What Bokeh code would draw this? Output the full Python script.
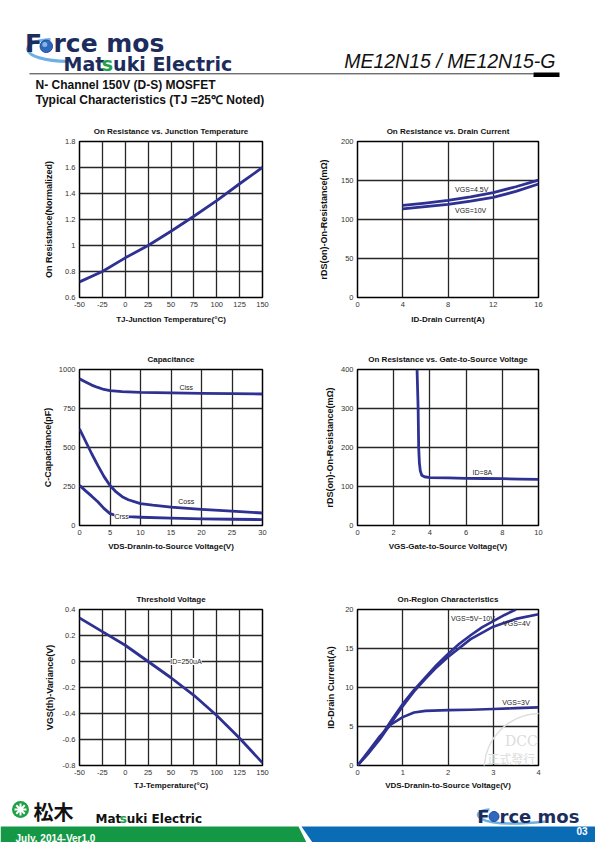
from bokeh.plotting import figure
from bokeh.models import Range1d, FixedTicker, Label, CustomJSTickFormatter
from bokeh.layouts import column, row
from bokeh.embed import file_html
from bokeh.resources import INLINE

# ---------------- data ----------------
tj_temp = [-50, -25, 0, 25, 50, 75, 100, 125, 150]
ron_norm = [0.72, 0.80, 0.905, 1.0, 1.11, 1.225, 1.345, 1.475, 1.60]

id_current = [4, 6, 8, 10, 12, 14, 16]
rds_vgs45 = [118, 121, 124.5, 129, 134.5, 142, 150.5]
rds_vgs10 = [113.5, 116.5, 119.5, 123.5, 128.5, 136, 145.5]

vds_ciss = [0, 1, 2, 3, 4, 5, 7, 10, 15, 20, 25, 30]
ciss = [940, 920, 900, 885, 872, 864, 858, 853, 850, 847, 845, 843]
vds_coss = [0, 1, 2, 3, 4, 5, 6, 7, 8, 10, 12, 15, 20, 25, 30]
coss = [620, 540, 460, 385, 315, 256, 215, 185, 165, 140, 130, 118, 103, 92, 80]
vds_crss = [0, 1, 2, 3, 4, 5, 6, 8, 10, 15, 20, 25, 30]
crss = [258, 222, 188, 152, 110, 76, 64, 57, 53, 47, 43, 40, 38]

vgs = [3.29, 3.35, 3.38, 3.42, 3.47, 3.55, 3.70, 4.0, 5, 6, 7, 8, 9, 10]
rds_vgs = [400, 300, 200, 160, 140, 129, 125, 123, 122, 121, 120.5, 120, 119, 118.5]

vth_temp = [-50, -25, 0, 25, 50, 75, 100, 125, 150]
vth_var = [0.335, 0.23, 0.125, 0.0, -0.125, -0.26, -0.415, -0.59, -0.78]

vds_5to10 = [0, 0.25, 0.5, 0.75, 1, 1.25, 1.5, 1.75, 2, 2.25, 2.5, 2.75, 3, 3.25, 3.5]
id_5to10 = [0, 1.7, 3.6, 5.8, 7.9, 9.7, 11.3, 12.9, 14.3, 15.6, 16.7, 17.7, 18.5, 19.3, 20.0]
vds_4v = [0, 0.25, 0.5, 0.75, 1, 1.25, 1.5, 1.75, 2, 2.5, 3, 3.5, 4]
id_4v = [0, 1.6, 3.4, 5.5, 7.6, 9.5, 11.1, 12.6, 13.9, 16.2, 17.8, 18.8, 19.4]
vds_3v = [0, 0.25, 0.5, 0.75, 1.0, 1.25, 1.5, 2, 2.5, 3, 3.5, 4]
id_3v = [0, 1.9, 3.8, 5.3, 6.2, 6.8, 7.0, 7.1, 7.15, 7.25, 7.35, 7.45]

ticks_temp = [-50, -25, 0, 25, 50, 75, 100, 125, 150]
ticks_ron = [0.6, 0.8, 1.0, 1.2, 1.4, 1.6, 1.8]
ticks_id = [0, 4, 8, 12, 16]
ticks_rds200 = [0, 50, 100, 150, 200]
ticks_vds30 = [0, 5, 10, 15, 20, 25, 30]
ticks_cap = [0, 250, 500, 750, 1000]
ticks_vgs = [0, 2, 4, 6, 8, 10]
ticks_rds400 = [0, 100, 200, 300, 400]
ticks_vth = [-0.8, -0.6, -0.4, -0.2, 0, 0.2, 0.4]
ticks_vds4 = [0, 1, 2, 3, 4]
ticks_id20 = [0, 5, 10, 15, 20]

# "DCC" stamp seen behind the last chart (centre / radius in that chart's units)
stamp_x, stamp_y, stamp_r = 4.04, -0.51, 1.24

FONT = "Liberation Sans"
CURVE = "#2e3192"
NAVY = "#1c2c5c"
LOGO_GREEN = "#22a04b"
BAND_GREEN = "#159846"
BAND_BLUE = "#0b6cb6"

fmt = CustomJSTickFormatter(code="return (Math.round(tick*10)/10).toString();")


def chart(title, xlabel, ylabel, xr, yr, xt, yt, width, height, bl, br, bt, bb,
          ylab_so, xlab_so):
    p = figure(width=width, height=height, x_range=Range1d(*xr), y_range=Range1d(*yr),
               output_backend="svg", toolbar_location=None, title=title,
               min_border_left=bl, min_border_right=br, min_border_top=bt,
               min_border_bottom=bb)
    p.title.align = "center"
    p.title.text_font = FONT
    p.title.text_font_size = "8px"
    p.title.text_font_style = "bold"
    p.title.text_color = "#111111"
    p.title.standoff = 12
    p.outline_line_color = "black"
    p.outline_line_width = 1.5
    p.background_fill_color = "white"
    p.border_fill_color = "white"
    for ax, ticks, lab, so, fs in ((p.xaxis[0], xt, xlabel, xlab_so, "8px"),
                                   (p.yaxis[0], yt, ylabel, ylab_so, "9px")):
        ax.ticker = FixedTicker(ticks=ticks)
        ax.formatter = fmt
        ax.axis_label = lab
        ax.axis_line_color = None
        ax.major_tick_line_color = None
        ax.minor_tick_line_color = None
        ax.major_tick_out = 0
        ax.major_tick_in = 0
        ax.major_label_standoff = 4
        ax.major_label_text_font = FONT
        ax.major_label_text_font_size = "7.5px"
        ax.major_label_text_color = "#333333"
        ax.axis_label_text_font = FONT
        ax.axis_label_text_font_size = fs
        ax.axis_label_text_font_style = "bold"
        ax.axis_label_text_color = "#111111"
        ax.axis_label_standoff = so
    p.xgrid.ticker = FixedTicker(ticks=xt)
    p.ygrid.ticker = FixedTicker(ticks=yt)
    p.grid.grid_line_color = "#262626"
    p.grid.grid_line_width = 1.3
    p.grid.grid_line_alpha = 1.0
    return p


def note(p, x, y, text, size="7px", bg=None, align="center", color="#222222", font=FONT):
    lab = Label(x=x, y=y, text=text, text_font=font, text_font_size=size,
                text_align=align, text_baseline="middle", text_color=color)
    if bg is not None:
        lab.background_fill_color = bg
    p.add_layout(lab)


LW, RW = 298, 297

# ---------- row 1 ----------
p1 = chart("On Resistance vs. Junction Temperature", "TJ-Junction Temperature(°C)",
           "On Resistance(Normalized)", (-50, 150), (0.6, 1.8), ticks_temp, ticks_ron,
           LW, 227, 79, 36, 23, 48, 8, 5)
p1.line(tj_temp, ron_norm, line_width=2.8, color=CURVE, line_join="round")

p2 = chart("On Resistance vs. Drain Current", "ID-Drain Current(A)",
           "rDS(on)-On-Resistance(mΩ)", (0, 16), (0, 200), ticks_id, ticks_rds200,
           RW, 227, 59, 57, 23, 48, 9, 5)
p2.line(id_current, rds_vgs45, line_width=2.8, color=CURVE, line_join="round")
p2.line(id_current, rds_vgs10, line_width=2.8, color=CURVE, line_join="round")
note(p2, 10.1, 138.5, "VGS=4.5V")
note(p2, 10.0, 111.5, "VGS=10V")

# ---------- row 2 ----------
p3 = chart("Capacitance", "VDS-Dranin-to-Source Voltage(V)", "C-Capacitance(pF)",
           (0, 30), (0, 1000), ticks_vds30, ticks_cap, LW, 240, 79, 36, 24, 60, 3, 4)
p3.line(vds_ciss, ciss, line_width=2.8, color=CURVE, line_join="round")
p3.line(vds_coss, coss, line_width=2.8, color=CURVE, line_join="round")
p3.line(vds_crss, crss, line_width=2.8, color=CURVE, line_join="round")
note(p3, 17.5, 886, "Ciss")
note(p3, 17.5, 156, "Coss")
note(p3, 6.9, 58, "Crss", bg="white")

p4 = chart("On Resistance vs. Gate-to-Source Voltage", "VGS-Gate-to-Source Voltage(V)",
           "rDS(on)-On-Resistance(mΩ)", (0, 10), (0, 400), ticks_vgs, ticks_rds400,
           RW, 240, 59, 57, 24, 60, 3, 4)
p4.line(vgs, rds_vgs, line_width=2.8, color=CURVE, line_join="round")
note(p4, 6.9, 137, "ID=8A")

# ---------- row 3 ----------
p5 = chart("Threshold Voltage", "TJ-Temperature(°C)", "VGS(th)-Variance(V)",
           (-50, 150), (-0.8, 0.4), ticks_temp, ticks_vth, LW, 210, 79, 36, 24, 30, 5, 3)
p5.line(vth_temp, vth_var, line_width=2.8, color=CURVE, line_join="round")
note(p5, 66.4, 0.0, "ID=250uA", bg="white")

p6 = chart("On-Region Characteristics", "VDS-Dranin-to-Source Voltage(V)",
           "ID-Drain Current(A)", (0, 4), (0, 20), ticks_vds4, ticks_id20,
           RW, 210, 59, 57, 24, 30, 6, 3)
p6.circle(x=[stamp_x], y=[stamp_y], radius=stamp_r, fill_color=None,
          line_color="#dedede", line_width=1.5)
note(p6, 3.62, 3.2, "DCC", size="14px", color="#dcdcdc", font="DejaVu Serif")
note(p6, 3.4, 0.9, "正式發行", size="12px", color="#dcdcdc", font="Noto Sans CJK TC")
p6.line(vds_5to10, id_5to10, line_width=2.6, color=CURVE, line_join="round")
p6.line(vds_4v, id_4v, line_width=2.6, color=CURVE, line_join="round")
p6.line(vds_3v, id_3v, line_width=2.6, color=CURVE, line_join="round")
note(p6, 2.55, 18.8, "VGS=5V~10V")
note(p6, 3.52, 18.2, "VGS=4V")
note(p6, 3.5, 8.1, "VGS=3V")


def hlabel(fig, x, y, text, size, color, font="DejaVu Sans", style="bold", align="left"):
    fig.add_layout(Label(x=x, y=y, text=text, text_font=font, text_font_size=size,
                         text_font_style=style, text_color=color, text_align=align,
                         text_baseline="middle"))


# ---------- header ----------
hdr = figure(width=LW + RW, height=118, x_range=Range1d(0, 595), y_range=Range1d(118, 0),
             output_backend="svg", toolbar_location=None, min_border=0)
hdr.axis.visible = False
hdr.grid.visible = False
hdr.outline_line_color = None
hdr.bezier(x0=[50], y0=[39], x1=[68], y1=[61], cx0=[18], cy0=[40], cx1=[16], cy1=[60],
           line_color="#6eb0e4", line_width=3)
hdr.scatter([45.8], [45.8], size=12.5, fill_color="#2f68bf", line_color="#1d4f9e")
hdr.scatter([44.3], [44.0], size=5, fill_color="#9cc8f0", line_color=None, fill_alpha=0.8)
hlabel(hdr, 41.5, 43, "F", "25px", NAVY, align="right")
hlabel(hdr, 53, 43, "rce mos", "25px", NAVY)
hlabel(hdr, 63, 63.3, "Mat", "19px", NAVY)
hlabel(hdr, 101.3, 63.3, "s", "19px", LOGO_GREEN)
hlabel(hdr, 112.6, 63.3, "uki Electric", "19px", NAVY)
hlabel(hdr, 555, 60.5, "ME12N15 / ME12N15-G", "19.5px", "#111111", font=FONT,
       style="italic", align="right")
hdr.line([29, 533], [73.3, 73.3], line_color="#333333", line_width=1)
hdr.quad(left=[533], right=[559], top=[72], bottom=[76.5], fill_color="black",
         line_color=None)
hlabel(hdr, 35, 84.2, "N- Channel 150V (D-S) MOSFET", "12px", "#111111", font=FONT)
hlabel(hdr, 35, 99.2, "Typical Characteristics (TJ =25℃ Noted)", "12px", "#111111",
       font=FONT)

# ---------- footer ----------
ftr = figure(width=LW + RW, height=47, x_range=Range1d(0, 595), y_range=Range1d(842, 795),
             output_backend="svg", toolbar_location=None, min_border=0)
ftr.axis.visible = False
ftr.grid.visible = False
ftr.outline_line_color = None
ftr.patch([0, 298, 306, 0], [826, 826, 842, 842], fill_color=BAND_GREEN, line_color=None)
ftr.patch([301, 595, 595, 312], [826, 826, 842, 842], fill_color=BAND_BLUE, line_color=None)
ftr.scatter([20], [809], size=17, fill_color="#1fa047", line_color=None)
ftr.scatter([20], [809], marker="asterisk", size=12, line_color="white", line_width=2)
hlabel(ftr, 33, 810.5, "松木", "20px", "#111111", font="Noto Sans CJK JP")
hlabel(ftr, 95, 818.8, "Mat", "12px", "#111111")
hlabel(ftr, 119.2, 818.8, "s", "12px", LOGO_GREEN)
hlabel(ftr, 126.3, 818.8, "uki Electric", "12px", "#111111")
hlabel(ftr, 15, 837.5, "July, 2014-Ver1.0", "10px", "white", font=FONT)
ftr.bezier(x0=[489], y0=[809], x1=[545], y1=[821], cx0=[468], cy0=[810], cx1=[470],
           cy1=[829], line_color="#6eb0e4", line_width=2.5)
ftr.scatter([493.5], [816], size=10, fill_color="#2f68bf", line_color="#1d4f9e")
hlabel(ftr, 489, 815.5, "F", "18px", NAVY, align="right")
hlabel(ftr, 499, 815.5, "rce mos", "18px", NAVY)
hlabel(ftr, 587, 830, "03", "10px", "white", font=FONT, align="right")

layout = column(hdr, row(p1, p2), row(p3, p4), row(p5, p6), ftr)

with open("out.html", "w") as f:
    f.write(file_html(layout, INLINE))
